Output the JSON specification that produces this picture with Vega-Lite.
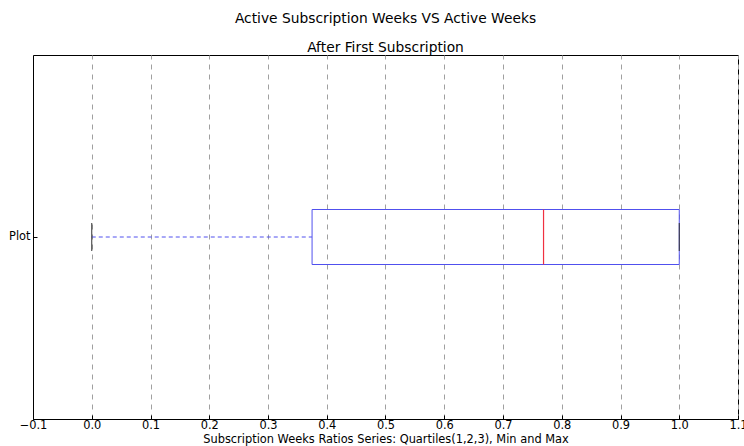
{
  "$schema": "https://vega.github.io/schema/vega-lite/v6.json",
  "width": 705,
  "height": 364,
  "autosize": "none",
  "padding": {"left": 33, "top": 55, "right": 6, "bottom": 27},
  "background": "white",
  "title": {
    "text": "Active Subscription Weeks VS Active Weeks",
    "subtitle": "After First Subscription",
    "anchor": "middle",
    "font": "DejaVu Sans",
    "subtitleFont": "DejaVu Sans",
    "fontSize": 13.8,
    "subtitleFontSize": 13.8,
    "fontWeight": "normal",
    "color": "#000",
    "subtitleColor": "#000",
    "subtitlePadding": 15,
    "offset": 0
  },
  "config": {
    "view": {"stroke": "#000", "strokeWidth": 1},
    "font": "DejaVu Sans"
  },
  "data": {
    "values": [
      {"series": "Plot", "min": 0.0, "q1": 0.375, "median": 0.769, "q3": 1.0, "max": 1.0}
    ]
  },
  "encoding": {
    "y": {
      "field": "series",
      "type": "nominal",
      "title": null,
      "axis": {
        "domain": true, "domainColor": "#000", "grid": false,
        "tickSize": -4, "tickColor": "#000", "labelPadding": 7,
        "labelFontSize": 11.4, "labelColor": "#000", "labelFont": "DejaVu Sans"
      }
    }
  },
  "layer": [
    {
      "mark": {"type": "rule", "color": "#5050ee", "strokeDash": [4, 3], "strokeWidth": 1},
      "encoding": {
        "x": {
          "field": "min", "type": "quantitative",
          "scale": {"domain": [-0.1, 1.1], "nice": false, "zero": false},
          "title": "Subscription Weeks Ratios Series: Quartiles(1,2,3), Min and Max",
          "axis": {
            "values": [-0.1, 0.0, 0.1, 0.2, 0.3, 0.4, 0.5, 0.6, 0.7, 0.8, 0.9, 1.0, 1.1],
            "format": ".1f",
            "grid": true, "gridColor": "#a0a0a0", "gridDash": [5, 5], "gridWidth": 1,
            "domainColor": "#000", "tickColor": "#000", "tickSize": -4,
            "labelPadding": 4, "labelFontSize": 11.4, "labelColor": "#000",
            "titleFontSize": 11.4, "titleFontWeight": "normal", "titleColor": "#000",
            "titlePadding": 3, "labelFlush": false
          }
        },
        "x2": {"field": "q1"}
      }
    },
    {
      "mark": {"type": "rule", "color": "#5050ee", "strokeDash": [4, 3], "strokeWidth": 1},
      "encoding": {
        "x": {"field": "q3", "type": "quantitative"},
        "x2": {"field": "max"}
      }
    },
    {
      "mark": {"type": "bar", "fill": null, "fillOpacity": 0, "stroke": "#5050ee", "strokeWidth": 1, "size": 55},
      "encoding": {
        "x": {"field": "q1", "type": "quantitative"},
        "x2": {"field": "q3"}
      }
    },
    {
      "mark": {"type": "bar", "fill": null, "fillOpacity": 0, "stroke": "#f03040", "strokeWidth": 1.2, "size": 55},
      "encoding": {
        "x": {"field": "median", "type": "quantitative"},
        "x2": {"field": "median"}
      }
    },
    {
      "mark": {"type": "tick", "orient": "vertical", "color": "#333", "size": 28, "thickness": 1, "opacity": 1},
      "encoding": {
        "x": {"field": "min", "type": "quantitative"}
      }
    },
    {
      "mark": {"type": "tick", "orient": "vertical", "color": "#333", "size": 28, "thickness": 1, "opacity": 1},
      "encoding": {
        "x": {"field": "max", "type": "quantitative"}
      }
    }
  ]
}
